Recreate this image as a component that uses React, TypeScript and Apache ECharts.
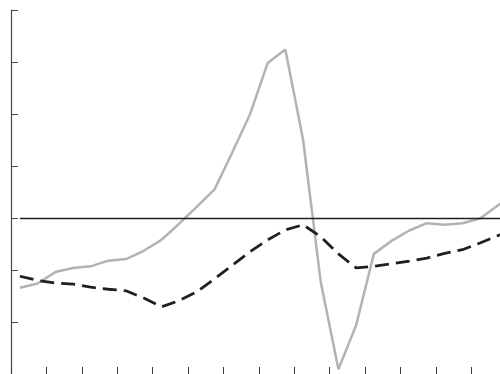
import React, { useEffect, useRef } from "react";
import * as echarts from "echarts";

// Observation periods (axis labels are not shown)
const periods: number[] = Array.from({ length: 29 }, (_, i) => i + 1);

// Solid grey series
const greySeries: number[] = [
  -1.34, -1.26, -1.04, -0.96, -0.93, -0.82, -0.79, -0.63, -0.42, -0.11,
  0.22, 0.55, 1.26, 1.99, 2.98, 3.24, 1.51, -1.23, -2.91, -2.06,
  -0.69, -0.44, -0.24, -0.1, -0.13, -0.1, -0.01, 0.24, 0.5,
];

// Dashed black series
const dashedSeries: number[] = [
  -1.12, -1.2, -1.25, -1.27, -1.33, -1.37, -1.4, -1.54, -1.71, -1.59,
  -1.42, -1.17, -0.91, -0.65, -0.42, -0.23, -0.13, -0.36, -0.69, -0.96,
  -0.93, -0.88, -0.83, -0.77, -0.68, -0.61, -0.48, -0.34, -0.2,
];

const yMin = -3;
const yMax = 4;
const yStep = 1;

// x ticks fall on every second period boundary
const xTickValues: number[] = Array.from({ length: 14 }, (_, i) => i * 2);

export default function App() {
  const ref = useRef<HTMLDivElement>(null);

  useEffect(() => {
    if (!ref.current) return;
    const chart = echarts.init(ref.current, null, { renderer: "svg" });
    const left = 11;
    const band = 17.7;
    const plotWidth = 500 - left;
    // each period is centred in its band
    const toPoints = (vals: number[]) =>
      vals.map((v, i) => [periods[i] - 0.5, v]);

    chart.setOption({
      animation: false,
      backgroundColor: "#ffffff",
      grid: { left, top: 10, right: 0, height: 365 },
      xAxis: {
        type: "value",
        min: 0,
        max: plotWidth / band,
        axisLine: { show: false, onZero: false },
        axisTick: {
          show: true,
          inside: true,
          length: 7,
          customValues: xTickValues,
          lineStyle: { color: "#3a3a3a", width: 1 },
        },
        axisLabel: { show: false },
        splitLine: { show: false },
      },
      yAxis: {
        type: "value",
        min: yMin,
        max: yMax,
        interval: yStep,
        axisLine: { show: true, lineStyle: { color: "#4a4a4a", width: 1.2 } },
        axisTick: {
          show: true,
          inside: true,
          length: 7,
          lineStyle: { color: "#4a4a4a", width: 1 },
        },
        axisLabel: { show: false },
        splitLine: { show: false },
      },
      series: [
        {
          type: "line",
          data: toPoints(greySeries),
          symbol: "none",
          clip: true,
          lineStyle: { color: "#b3b3b3", width: 2.5 },
          z: 2,
          markLine: {
            silent: true,
            symbol: "none",
            label: { show: false },
            lineStyle: { color: "#231f20", width: 1.3, type: "solid" },
            data: [
              [
                { coord: [periods[0] - 0.5, 0] },
                { coord: [plotWidth / band, 0] },
              ],
            ],
          },
        },
        {
          type: "line",
          data: toPoints(dashedSeries),
          symbol: "none",
          clip: true,
          lineStyle: { color: "#231f20", width: 2.8, type: [14, 7] },
          z: 3,
        },
      ],
    });
    return () => chart.dispose();
  }, []);

  return (
    <div
      ref={ref}
      style={{ position: "fixed", left: 0, top: 0, width: 500, height: 374 }}
    />
  );
}
